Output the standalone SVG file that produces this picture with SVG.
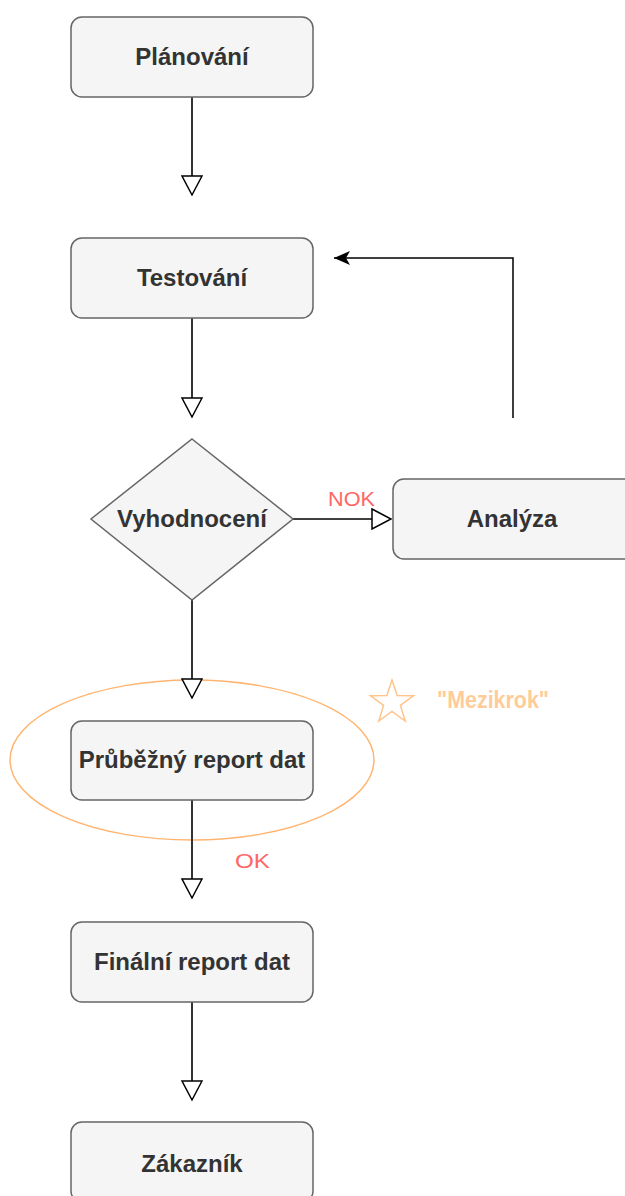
<svg xmlns="http://www.w3.org/2000/svg" width="625" height="1196" viewBox="0 0 625 1196">
  <style>
    .box{fill:#f5f5f5;stroke:#666;stroke-width:1.5}
    .lbl{font-family:"Liberation Sans",Arial,sans-serif;font-size:24px;font-weight:bold;fill:#333;text-anchor:middle}
    .edge{fill:none;stroke:#333;stroke-width:2}
    .red{font-family:"Liberation Sans",Arial,sans-serif;font-size:21px;fill:#ff6666}
  </style>
  <defs>
    <marker id="open" markerUnits="userSpaceOnUse" markerWidth="22" markerHeight="22" viewBox="-1 -1 22 22" refX="19" refY="10" orient="auto">
      <path d="M0,0 L19,10 L0,20 Z" fill="#fff" stroke="#000" stroke-width="1.5"/>
    </marker>
    <marker id="block" markerUnits="userSpaceOnUse" markerWidth="18" markerHeight="15" viewBox="0 0 18 15" refX="16" refY="7" orient="auto">
      <path d="M0,0 L16,7 L0,14 L4,7 Z" fill="#000"/>
    </marker>
  </defs>

  <g id="mezikrok">
    <ellipse cx="192" cy="760" rx="182" ry="80" fill="none" stroke="#ffb570" stroke-width="1.5"/>
    <polygon points="392,680 397.2,695.6 413.5,695.8 400.4,705.4 405.3,721 392,711.5 378.7,721 383.6,705.4 370.5,695.8 386.8,695.6" fill="none" stroke="#ffc48a" stroke-width="1.5"/>
    <text x="437" y="708" font-family="'Liberation Sans',Arial,sans-serif" font-size="23" font-weight="bold" fill="#ffcc99" textLength="112" lengthAdjust="spacingAndGlyphs">"Mezikrok"</text>
  </g>

  <g id="connectors">
    <line class="edge" x1="192" y1="97" x2="192" y2="195" marker-end="url(#open)"/>
    <line class="edge" x1="192" y1="318" x2="192" y2="417" marker-end="url(#open)"/>
    <line class="edge" x1="192" y1="600" x2="192" y2="698" stroke="#555" marker-end="url(#open)"/>
    <line class="edge" x1="192" y1="800" x2="192" y2="898" marker-end="url(#open)"/>
    <line class="edge" x1="192" y1="1002" x2="192" y2="1100" marker-end="url(#open)"/>
    <line x1="293" y1="519" x2="391" y2="519" stroke="#000" stroke-width="1.5" marker-end="url(#open)"/>
    <polyline points="513,418 513,258 334,258" fill="none" stroke="#000" stroke-width="1.5" marker-end="url(#block)"/>
    <text class="red" x="328" y="506" textLength="47" lengthAdjust="spacingAndGlyphs">NOK</text>
    <text class="red" x="235" y="868" font-size="22" textLength="35" lengthAdjust="spacingAndGlyphs">OK</text>
  </g>

  <g id="planovani">
    <rect class="box" x="71" y="17" width="242" height="80" rx="11"/>
    <text class="lbl" x="192" y="65">Plánování</text>
  </g>
  <g id="testovani">
    <rect class="box" x="71" y="238" width="242" height="80" rx="11"/>
    <text class="lbl" x="192" y="286">Testování</text>
  </g>
  <g id="vyhodnoceni">
    <polygon class="box" points="192,439 293,519 192,600 91,519"/>
    <text class="lbl" x="192" y="527">Vyhodnocení</text>
  </g>
  <g id="analyza">
    <rect class="box" x="393" y="479" width="242" height="80" rx="11"/>
    <text class="lbl" x="512" y="527">Analýza</text>
  </g>
  <g id="prubezny">
    <rect class="box" x="71" y="721" width="242" height="79" rx="11"/>
    <text class="lbl" x="192" y="768">Průběžný report dat</text>
  </g>
  <g id="finalni">
    <rect class="box" x="71" y="922" width="242" height="80" rx="11"/>
    <text class="lbl" x="192" y="970">Finální report dat</text>
  </g>
  <g id="zakaznik">
    <rect class="box" x="71" y="1122" width="242" height="80" rx="11"/>
    <text class="lbl" x="192" y="1172">Zákazník</text>
  </g>
</svg>
